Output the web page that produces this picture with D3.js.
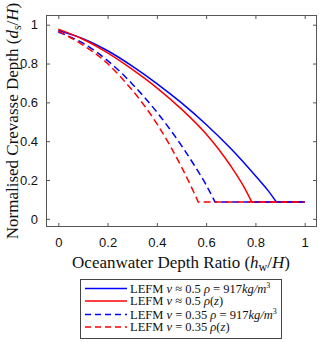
<!DOCTYPE html>
<html><head><meta charset="utf-8">
<script src="https://cdn.jsdelivr.net/npm/d3@7"></script>
<style>body{margin:0;background:#fff}svg{display:block}</style>
</head><body>
<script>
// ---- data ----
const xTicks = [0, 0.2, 0.4, 0.6, 0.8, 1];
const yTicks = [0, 0.2, 0.4, 0.6, 0.8, 1];
const floorDepth = 0.087;
const xEnd = 1;

const xBlueSolid = [0, 0.1, 0.2, 0.3, 0.4, 0.5, 0.6, 0.7, 0.8, 0.85, 0.885];
const yBlueSolid = [0.970, 0.928, 0.866, 0.787, 0.697, 0.597, 0.486, 0.362, 0.222, 0.148, 0.087];

const xRedSolid = [0, 0.1, 0.2, 0.3, 0.4, 0.5, 0.6, 0.65, 0.7, 0.75, 0.785];
const yRedSolid = [0.977, 0.925, 0.855, 0.77, 0.675, 0.565, 0.437, 0.36, 0.272, 0.172, 0.087];

const xBlueDash = [0, 0.1, 0.2, 0.3, 0.35, 0.4, 0.45, 0.5, 0.55, 0.6, 0.636];
const yBlueDash = [0.962, 0.905, 0.815, 0.695, 0.625, 0.55, 0.467, 0.377, 0.28, 0.175, 0.087];

const xRedDash = [0, 0.1, 0.2, 0.25, 0.3, 0.35, 0.4, 0.45, 0.5, 0.55, 0.568];
const yRedDash = [0.967, 0.895, 0.8, 0.735, 0.663, 0.582, 0.49, 0.385, 0.267, 0.137, 0.087];

const seriesNames = ["blueSolid", "redSolid", "blueDash", "redDash"];
const seriesColors = ["#0000ff", "#ff0000", "#0000ff", "#ff0000"];
const seriesDash = [null, null, "7,4", "7,4"];

// ---- chart ----
const W = 320, H = 342;
const svg = d3.select("body").append("svg").attr("width", W).attr("height", H);
const L = 46, R = 317, T = 15, B = 227;
const x = d3.scaleLinear().domain([-0.05, 1.05]).range([L, R]);
const y = d3.scaleLinear().domain([-0.042, 1.05]).range([B, T]);

const axisColor = "#555";
const tickFont = "'Liberation Sans', Arial, sans-serif";
const serif = "'Liberation Serif', 'Times New Roman', serif";

// axes via d3
const gx = svg.append("g").attr("transform", `translate(0,${B})`)
  .call(d3.axisBottom(x).tickValues(xTicks).tickSize(-4).tickPadding(8).tickFormat(d3.format("~g")));
const gxt = svg.append("g").attr("transform", `translate(0,${T})`)
  .call(d3.axisTop(x).tickValues(xTicks).tickSize(-4).tickFormat(""));
const gy = svg.append("g").attr("transform", `translate(${L},0)`)
  .call(d3.axisLeft(y).tickValues(yTicks).tickSize(-4).tickPadding(8).tickFormat(d3.format("~g")));
const gyr = svg.append("g").attr("transform", `translate(${R},0)`)
  .call(d3.axisRight(y).tickValues(yTicks).tickSize(-4).tickFormat(""));
[gx, gxt, gy, gyr].forEach(g => {
  g.select(".domain").remove();
  g.selectAll(".tick line").attr("stroke", axisColor);
  g.selectAll("text").attr("font-family", tickFont).attr("font-size", 13).attr("fill", "#111");
});
gx.selectAll("text").attr("dy", "0.9em");
svg.append("rect").attr("x", L + 0.5).attr("y", T + 0.5).attr("width", R - L - 1).attr("height", B - T - 1)
  .attr("fill", "none").attr("stroke", axisColor).attr("stroke-width", 1);

// lines
const xs = [xBlueSolid, xRedSolid, xBlueDash, xRedDash];
const ys = [yBlueSolid, yRedSolid, yBlueDash, yRedDash];
const lineGen = d3.line().x(d => x(d[0])).y(d => y(d[1])).curve(d3.curveMonotoneX);
const plot = svg.append("g");
seriesNames.forEach((name, i) => {
  const pts = xs[i].map((v, j) => [v, ys[i][j]]);
  const d = lineGen(pts) + "L" + x(xEnd) + "," + y(floorDepth);
  const p = plot.append("path").attr("d", d).attr("fill", "none")
    .attr("stroke", seriesColors[i]).attr("stroke-width", 1.5);
  if (seriesDash[i]) p.attr("stroke-dasharray", seriesDash[i]);
});

// axis labels
const xl = svg.append("text").attr("x", 181).attr("y", 268).attr("text-anchor", "middle")
  .attr("font-family", serif).attr("font-size", 17).attr("fill", "#111");
xl.append("tspan").text("Oceanwater Depth Ratio (");
xl.append("tspan").attr("font-style", "italic").text("h");
xl.append("tspan").attr("font-size", 12).attr("dy", 3).text("w");
xl.append("tspan").attr("dy", -3).text("/");
xl.append("tspan").attr("font-style", "italic").text("H");
xl.append("tspan").text(")");

const yl = svg.append("text").attr("transform", `translate(18,${(T + B) / 2}) rotate(-90)`)
  .attr("text-anchor", "middle").attr("font-family", serif).attr("font-size", 17).attr("fill", "#111");
yl.append("tspan").text("Normalised Crevasse Depth (");
yl.append("tspan").attr("font-style", "italic").text("d");
yl.append("tspan").attr("font-size", 12).attr("dy", 3).text("s");
yl.append("tspan").attr("dy", -3).text("/");
yl.append("tspan").attr("font-style", "italic").text("H");
yl.append("tspan").text(")");

// legend
const lg = svg.append("g");
lg.append("rect").attr("x", 80.5).attr("y", 279.5).attr("width", 201).attr("height", 59)
  .attr("fill", "#fff").attr("stroke", "#444").attr("stroke-width", 1);
const rowY = [288.5, 301, 314.5, 327];
const legendParts = [
  [["LEFM ", ""], ["ν", "i"], [" ≈ 0.5 ", ""], ["ρ", "i"], [" = 917", ""], ["kg/m", "i"], ["3", "sup"]],
  [["LEFM ", ""], ["ν", "i"], [" ≈ 0.5 ", ""], ["ρ", "i"], ["(", ""], ["z", "i"], [")", ""]],
  [["LEFM ", ""], ["ν", "i"], [" = 0.35 ", ""], ["ρ", "i"], [" = 917", ""], ["kg/m", "i"], ["3", "sup"]],
  [["LEFM ", ""], ["ν", "i"], [" = 0.35 ", ""], ["ρ", "i"], ["(", ""], ["z", "i"], [")", ""]]
];
seriesNames.forEach((name, i) => {
  const ln = lg.append("line").attr("x1", 85).attr("x2", 127).attr("y1", rowY[i]).attr("y2", rowY[i])
    .attr("stroke", seriesColors[i]).attr("stroke-width", 1.5);
  if (seriesDash[i]) ln.attr("stroke-dasharray", "6,4");
  const t = lg.append("text").attr("x", 130).attr("y", rowY[i] + 4).attr("font-family", serif)
    .attr("font-size", 12.5).attr("fill", "#111");
  legendParts[i].forEach(([s, st]) => {
    const sp = t.append("tspan").text(s);
    if (st === "i") sp.attr("font-style", "italic");
    if (st === "sup") sp.attr("font-size", 8).attr("dy", -5);
  });
});
</script>
</body></html>
